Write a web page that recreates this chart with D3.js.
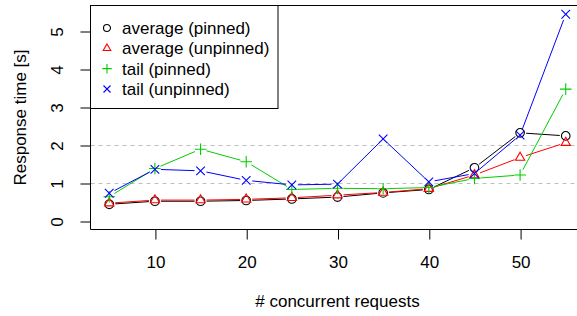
<!DOCTYPE html>
<html>
<head>
<meta charset="utf-8">
<script src="https://cdn.jsdelivr.net/npm/d3@7"></script>
<style>
  html, body { margin: 0; padding: 0; background: #fff; }
  svg { display: block; }
  text { font-family: "Liberation Sans", Arial, sans-serif; font-size: 17px; fill: #000; }
</style>
</head>
<body>
<svg id="chart" width="577" height="316"></svg>
<script>
// ---- data ----
const requests = [5, 10, 15, 20, 25, 30, 35, 40, 45, 50, 55];
const avgPinned = [0.44, 0.52, 0.52, 0.54, 0.58, 0.63, 0.74, 0.83, 1.40, 2.32, 2.24];
const avgUnpinned = [0.47, 0.55, 0.55, 0.57, 0.61, 0.68, 0.75, 0.85, 1.21, 1.67, 2.06];
const tailPinned = [0.64, 1.38, 1.89, 1.56, 0.83, 0.86, 0.85, 0.88, 1.12, 1.21, 3.47];
const tailUnpinned = [0.73, 1.36, 1.32, 1.07, 0.95, 0.97, 2.16, 1.03, 1.25, 2.26, 5.44];
const xTicks = [10, 20, 30, 40, 50];
const yTicks = [0, 1, 2, 3, 4, 5];
const gridLevels = [1, 2];
const seriesNames = ["average (pinned)", "average (unpinned)", "tail (pinned)", "tail (unpinned)"];
const seriesColors = ["#000000", "#FF0000", "#00CD00", "#0000FF"];
const seriesShapes = ["circle", "triangle", "plus", "cross"];
const seriesValues = [avgPinned, avgUnpinned, tailPinned, tailUnpinned];

const svg = d3.select("#chart");
const box = { left: 90.5, top: 5.5, right: 584, bottom: 229.5 };

const x = d3.scaleLinear().domain([3, 57]).range([91, 584]);
const y = d3.scaleLinear().domain([0, 5]).range([221, 31]);

// grid lines
svg.selectAll("line.grid").data(gridLevels).enter().append("line")
  .attr("x1", box.left).attr("x2", 600)
  .attr("y1", d => Math.round(y(d)) + 0.5).attr("y2", d => Math.round(y(d)) + 0.5)
  .attr("stroke", "#BEBEBE").attr("stroke-dasharray", "4,4").attr("stroke-width", 1);

// symbol path generator
function symPath(shape, cx, cy, s) {
  if (shape === "circle") {
    return `M${cx - s},${cy} a${s},${s} 0 1,0 ${2 * s},0 a${s},${s} 0 1,0 ${-2 * s},0 Z`;
  }
  if (shape === "triangle") {
    const r = s * 1.25, xc = r * Math.sqrt(3) / 2, yc = r / 2;
    return `M${cx},${cy - r} L${cx + xc},${cy + yc} L${cx - xc},${cy + yc} Z`;
  }
  if (shape === "plus") {
    const a = s * 1.35;
    return `M${cx - a},${cy} L${cx + a},${cy} M${cx},${cy - a} L${cx},${cy + a}`;
  }
  const a = s;
  return `M${cx - a},${cy - a} L${cx + a},${cy + a} M${cx - a},${cy + a} L${cx + a},${cy - a}`;
}

// series: lines with gaps (type "b") then points
const gap = 6;
seriesValues.forEach((vals, si) => {
  const pts = requests.map((r, i) => [x(r), y(vals[i])]);
  const segs = [];
  for (let i = 0; i < pts.length - 1; i++) {
    const [x0, y0] = pts[i], [x1, y1] = pts[i + 1];
    const len = Math.hypot(x1 - x0, y1 - y0);
    if (len > 2 * gap) {
      const ux = (x1 - x0) / len, uy = (y1 - y0) / len;
      segs.push([x0 + ux * gap, y0 + uy * gap, x1 - ux * gap, y1 - uy * gap]);
    }
  }
  const g = svg.append("g");
  g.selectAll("line").data(segs).enter().append("line")
    .attr("x1", d => d[0]).attr("y1", d => d[1]).attr("x2", d => d[2]).attr("y2", d => d[3])
    .attr("stroke", seriesColors[si]).attr("stroke-width", 1);
  g.selectAll("path").data(pts).enter().append("path")
    .attr("d", d => symPath(seriesShapes[si], d[0], d[1], 4.3))
    .attr("fill", "none").attr("stroke", seriesColors[si]).attr("stroke-width", 1.1);
});

// box
svg.append("path")
  .attr("d", `M${box.right + 10},${box.top} L${box.left},${box.top} L${box.left},${box.bottom} L${box.right + 10},${box.bottom}`)
  .attr("fill", "none").attr("stroke", "#000").attr("stroke-width", 1);

// x axis
const xAxis = d3.axisBottom(x).tickValues(xTicks).tickFormat(d3.format("d")).tickSize(10).tickPadding(5).tickSizeOuter(0);
const gx = svg.append("g").attr("transform", `translate(0.5,${box.bottom})`).call(xAxis);
gx.select(".domain").attr("d", `M${x(10)},0H${x(50)}`).attr("stroke", "#000");
gx.selectAll(".tick line").attr("stroke", "#000");
gx.selectAll(".tick text").attr("font-size", null).attr("font-family", null).attr("fill", "#000")
  .attr("y", null).attr("dy", null).attr("transform", "translate(0,38)");

// y axis
const yAxis = d3.axisLeft(y).tickValues(yTicks).tickFormat(d3.format("d")).tickSize(10).tickSizeOuter(0);
const gy = svg.append("g").attr("transform", `translate(${box.left},0.5)`).call(yAxis);
gy.select(".domain").attr("d", `M0,${y(0)}V${y(5)}`).attr("stroke", "#000");
gy.selectAll(".tick line").attr("stroke", "#000");
gy.selectAll(".tick text").attr("font-size", null).attr("font-family", null).attr("fill", "#000")
  .attr("x", null).attr("dy", null).attr("text-anchor", "middle")
  .attr("transform", "translate(-27.5,0) rotate(-90)");

// axis titles
svg.append("text").attr("x", 337.5).attr("y", 307).attr("text-anchor", "middle").text("# concurrent requests");
svg.append("text").attr("transform", `translate(25.5,${(box.top + box.bottom) / 2}) rotate(-90)`)
  .attr("text-anchor", "middle").text("Response time [s]");

// legend
const lg = svg.append("g");
lg.append("rect").attr("x", box.left).attr("y", box.top).attr("width", 187.5).attr("height", 103)
  .attr("fill", "#fff").attr("stroke", "#000").attr("stroke-width", 1);
const rowY = d3.scalePoint().domain(seriesNames).range([28, 89]);
seriesNames.forEach((name, i) => {
  lg.append("path").attr("d", symPath(seriesShapes[i], 107, rowY(name), 3.5))
    .attr("fill", "none").attr("stroke", seriesColors[i]).attr("stroke-width", 1.1);
  lg.append("text").attr("x", 122).attr("y", rowY(name) + 6).text(name);
});
</script>
</body>
</html>
